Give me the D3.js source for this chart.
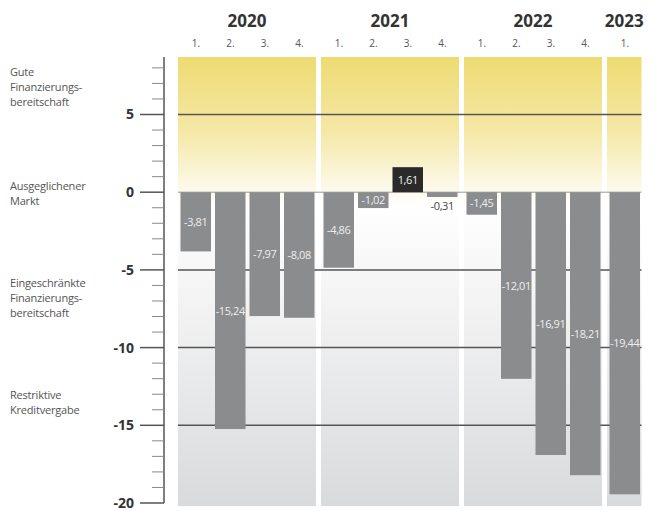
<!DOCTYPE html>
<html>
<head>
<meta charset="utf-8">
<script src="https://cdn.jsdelivr.net/npm/d3@7"></script>
<style>
  body { margin: 0; background: #fff; }
  svg { display: block; font-family: "Open Sans", sans-serif; }
</style>
</head>
<body>
<svg id="chart" width="658" height="511"></svg>
<script>
// Chart data
var years = ["2020", "2021", "2022", "2023"];
var quarters = ["1.", "2.", "3.", "4.", "1.", "2.", "3.", "4.", "1.", "2.", "3.", "4.", "1."];
var quarterYear = [0, 0, 0, 0, 1, 1, 1, 1, 2, 2, 2, 2, 3];
var values = [-3.81, -15.24, -7.97, -8.08, -4.86, -1.02, 1.61, -0.31, -1.45, -12.01, -16.91, -18.21, -19.44];
var majorTicks = [5, 0, -5, -10, -15, -20];
var gridValues = [5, -5, -10, -15];
var zoneLabels = [
    { v: 7.5, lines: ["Gute", "Finanzierungs-", "bereitschaft"] },
    { v: 0.15, lines: ["Ausgeglichener", "Markt"] },
    { v: -6.1, lines: ["Eingeschränkte", "Finanzierungs-", "bereitschaft"] },
    { v: -13.3, lines: ["Restriktive", "Kreditvergabe"] }
];

var svg = d3.select("#chart");

// Scales
var y = d3.scaleLinear().domain([-20, 8.7]).range([503, 57]);
var slot = d3.scaleLinear().domain([0, 13]).range([178, 178 + 13 * 34.5]);
var yearGap = 5;
var slotX = function(i) { return slot(i) + quarterYear[i] * yearGap; };

// Gradients for the panels
var defs = svg.append("defs");
var grad = defs.append("linearGradient")
    .attr("id", "bg")
    .attr("gradientUnits", "userSpaceOnUse")
    .attr("x1", 0).attr("x2", 0)
    .attr("y1", y(8.7)).attr("y2", y(-20.2));
var z = (y(0) - y(8.7)) / (y(-20.2) - y(8.7));
grad.append("stop").attr("offset", 0).attr("stop-color", "#eedb72");
grad.append("stop").attr("offset", z * 0.55).attr("stop-color", "#f5e8a6");
grad.append("stop").attr("offset", z).attr("stop-color", "#fdfaee");
grad.append("stop").attr("offset", z + 0.03).attr("stop-color", "#ffffff");
grad.append("stop").attr("offset", 1).attr("stop-color", "#d9dadc");

// Year panels
years.forEach(function(yr, k) {
    var idx = d3.range(quarters.length).filter(function(i) { return quarterYear[i] == k; });
    var x0 = slotX(idx[0]);
    var x1 = slotX(idx[idx.length - 1]) + 34.5;
    svg.append("rect")
        .attr("x", x0)
        .attr("y", y(8.7))
        .attr("width", x1 - x0)
        .attr("height", y(-20.2) - y(8.7))
        .attr("fill", "url(#bg)");
    svg.append("text")
        .attr("x", (x0 + x1) / 2)
        .attr("y", 27)
        .attr("text-anchor", "middle")
        .attr("font-size", "17px")
        .attr("font-weight", "bold")
        .attr("fill", "#333")
        .text(yr);
});

// Quarter labels
quarters.forEach(function(q, i) {
    svg.append("text")
        .attr("x", slotX(i) + 18)
        .attr("y", 47)
        .attr("text-anchor", "middle")
        .attr("font-size", "10px")
        .attr("fill", "#555")
        .text(q);
});

// Grid lines
svg.selectAll(".grid")
    .data(gridValues)
    .enter().append("line")
    .attr("x1", 178).attr("x2", slotX(12) + 34.5)
    .attr("y1", function(d) { return y(d); })
    .attr("y2", function(d) { return y(d); })
    .attr("stroke", "#555")
    .attr("stroke-width", 1.5);
svg.append("line")
    .attr("x1", 178).attr("x2", slotX(12) + 34.5)
    .attr("y1", y(0)).attr("y2", y(0))
    .attr("stroke", "#999")
    .attr("stroke-width", 1);

// Y axis
var axis = svg.append("g");
axis.append("line")
    .attr("x1", 164).attr("x2", 164)
    .attr("y1", y(8.7)).attr("y2", y(-20))
    .attr("stroke", "#555").attr("stroke-width", 1.5);
d3.range(-19, 9).filter(function(v) { return v % 5 != 0; }).forEach(function(v) {
    axis.append("line")
        .attr("x1", 152).attr("x2", 164)
        .attr("y1", y(v)).attr("y2", y(v))
        .attr("stroke", "#888").attr("stroke-width", 1);
});
majorTicks.forEach(function(v) {
    axis.append("line")
        .attr("x1", 140).attr("x2", 164)
        .attr("y1", y(v)).attr("y2", y(v))
        .attr("stroke", "#555").attr("stroke-width", 1.5);
    axis.append("text")
        .attr("x", 134)
        .attr("y", y(v) + 5)
        .attr("text-anchor", "end")
        .attr("font-size", "14px")
        .attr("font-weight", "bold")
        .attr("fill", "#333")
        .text(v);
});

// Zone labels on the left
zoneLabels.forEach(function(zl) {
    var t = svg.append("text")
        .attr("x", 10)
        .attr("y", y(zl.v))
        .attr("font-size", "11px")
        .attr("letter-spacing", "-0.2px")
        .attr("fill", "#555");
    zl.lines.forEach(function(l, j) {
        t.append("tspan").attr("x", 10).attr("dy", j == 0 ? 0 : 15).text(l);
    });
});

// Bars
var fmt = function(v) { return String(v.toFixed(2)).replace(".", ","); };
values.forEach(function(v, i) {
    var bx = slotX(i) + 2.5;
    var bw = 30.5;
    svg.append("rect")
        .attr("x", bx)
        .attr("y", y(Math.max(0, v)))
        .attr("width", bw)
        .attr("height", Math.abs(y(v) - y(0)))
        .attr("fill", v > 0 ? "#2a2a2a" : "#8b8c8e");
    var small = Math.abs(v) < 0.6;
    svg.append("text")
        .attr("x", bx + bw / 2)
        .attr("y", small ? y(v) + 13 : (y(v) + y(0)) / 2 + 4)
        .attr("text-anchor", "middle")
        .attr("font-size", "11px")
        .attr("letter-spacing", "-0.4px")
        .attr("fill", small ? "#444" : "#eeeeee")
        .text(fmt(v));
});
</script>
</body>
</html>
